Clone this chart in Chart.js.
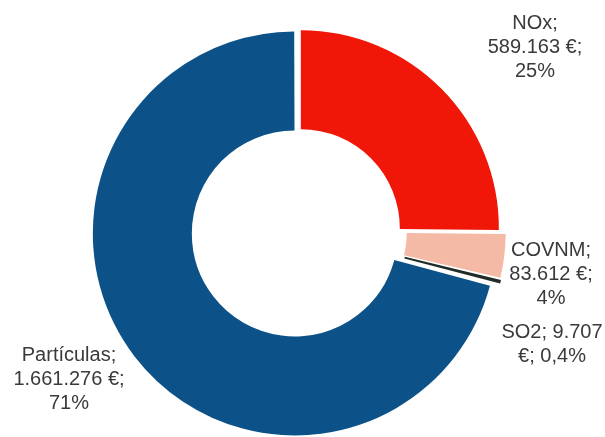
<!DOCTYPE html>
<html>
<head>
<meta charset="utf-8">
<script src="https://cdn.jsdelivr.net/npm/chart.js@4/dist/chart.umd.min.js"></script>
<style>
  html, body { margin: 0; padding: 0; background: #fff; }
  #wrap { width: 605px; height: 437px; position: relative; }
</style>
</head>
<body>
<div id="wrap"><canvas id="chart-area"></canvas></div>
<script>
  var categories = ['NOx', 'COVNM', 'SO2', 'Partículas'];
  var values = [589163, 83612, 9707, 1661276];
  var percentLabels = ['25%', '4%', '0,4%', '71%'];
  var colors = ['rgb(240, 22, 8)', 'rgb(245, 186, 166)', 'rgb(34, 44, 38)', 'rgb(12, 82, 136)'];

  var fmt = function(n) {
    return String(n).replace(/\B(?=(\d{3})+(?!\d))/g, '.');
  };

  // text lines of each data label, split the way the original wraps them
  var labelLines = categories.map(function(c, i) {
    if (c === 'SO2') {
      return [c + '; ' + fmt(values[i]), '€; ' + percentLabels[i]];
    }
    return [c + ';', fmt(values[i]) + ' €;', percentLabels[i]];
  });

  // where each label block sits (centre x, first line y)
  var labelAnchors = [[535, 23], [551, 250], [552, 332], [69, 355]];

  var outsideLabels = {
    id: 'outsideLabels',
    afterDraw: function(chart) {
      var ctx = chart.ctx;
      ctx.save();
      ctx.font = '20px "Liberation Sans", Arial, sans-serif';
      ctx.fillStyle = '#3a3a3a';
      ctx.textAlign = 'center';
      ctx.textBaseline = 'middle';
      labelLines.forEach(function(lines, i) {
        lines.forEach(function(t, j) {
          ctx.fillText(t, labelAnchors[i][0], labelAnchors[i][1] + j * 24);
        });
      });
      ctx.restore();
    }
  };

  // chart.js moves an arc by offset / 4
  var config = {
    type: 'doughnut',
    data: {
      labels: categories,
      datasets: [{
        data: values,
        backgroundColor: colors,
        borderWidth: 0,
        offset: [16, 22, 22, 16],
        radius: 198,
        cutout: '50%',
        clip: false
      }]
    },
    options: {
      responsive: true,
      maintainAspectRatio: false,
      animation: false,
      layout: { padding: { left: 0, right: 9, top: 25, bottom: 0 } },
      plugins: {
        legend: { display: false },
        tooltip: { enabled: false }
      }
    },
    plugins: [outsideLabels]
  };

  window.onload = function() {
    var ctx = document.getElementById('chart-area').getContext('2d');
    window.myPie = new Chart(ctx, config);
  };
</script>
</body>
</html>
